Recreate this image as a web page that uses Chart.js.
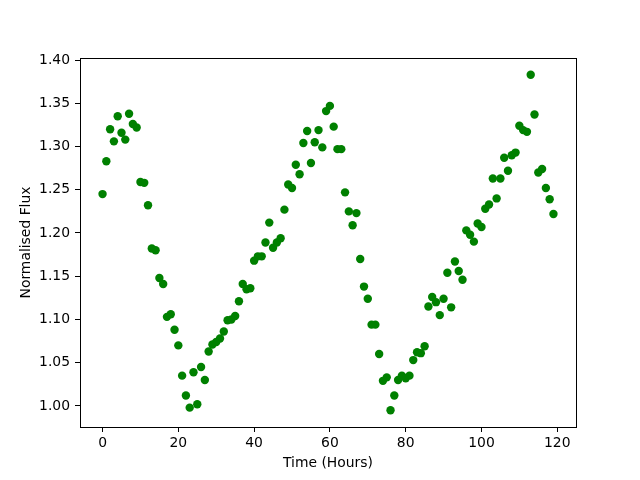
<!DOCTYPE html>
<html>
<head>
<meta charset="utf-8">
<script src="https://cdn.jsdelivr.net/npm/chart.js@4.4.0/dist/chart.umd.min.js"></script>
<style>
  body { margin: 0; background: #fff; }
  canvas { display: block; }
</style>
</head>
<body>
<canvas id="fluxChart" width="640" height="480"></canvas>
<script>
// Données
const hours = [];
for (let i = 0; i < 120; i++) hours.push(i);

const flux = [
    1.245, 1.283, 1.320, 1.306, 1.335, 1.316, 1.308, 1.338, 1.326, 1.322,
    1.259, 1.258, 1.232, 1.182, 1.180, 1.148, 1.141, 1.103, 1.106, 1.088,
    1.070, 1.035, 1.012, 0.998, 1.039, 1.002, 1.045, 1.030, 1.063, 1.071,
    1.074, 1.078, 1.086, 1.099, 1.100, 1.104, 1.121, 1.141, 1.135, 1.136,
    1.168, 1.173, 1.173, 1.189, 1.212, 1.183, 1.189, 1.194, 1.227, 1.256,
    1.252, 1.279, 1.268, 1.304, 1.318, 1.281, 1.305, 1.319, 1.299, 1.341,
    1.347, 1.323, 1.297, 1.297, 1.247, 1.225, 1.209, 1.223, 1.170, 1.138,
    1.124, 1.094, 1.094, 1.060, 1.029, 1.033, 0.995, 1.012, 1.030, 1.035,
    1.032, 1.035, 1.053, 1.062, 1.061, 1.069, 1.115, 1.126, 1.120, 1.105,
    1.124, 1.154, 1.114, 1.167, 1.156, 1.146, 1.203, 1.198, 1.190, 1.211,
    1.207, 1.228, 1.233, 1.263, 1.240, 1.263, 1.287, 1.272, 1.290, 1.293,
    1.324, 1.319, 1.317, 1.383, 1.337, 1.270, 1.274, 1.252, 1.239, 1.222
];

const xTicks = [0, 20, 40, 60, 80, 100, 120];
const yTicks = [1.00, 1.05, 1.10, 1.15, 1.20, 1.25, 1.30, 1.35, 1.40];

// Cadre noir autour de la zone du graphique
const frame = {
    id: 'frame',
    afterDraw(chart) {
        const a = chart.chartArea;
        const c = chart.ctx;
        c.save();
        c.strokeStyle = '#000';
        c.lineWidth = 1;
        c.strokeRect(Math.round(a.left) + 0.5, Math.round(a.top) + 0.5,
            Math.round(a.right - a.left), Math.round(a.bottom - a.top));
        c.restore();
    }
};

const font = { family: 'DejaVu Sans', size: 13.9 };

new Chart(document.getElementById('fluxChart'), {
    type: 'scatter',
    data: {
        datasets: [{
            data: hours.map((h, i) => ({ x: h, y: flux[i] })),
            backgroundColor: '#008000',
            borderColor: '#008000',
            pointRadius: 4.2,
            pointHoverRadius: 4.2,
            borderWidth: 0
        }]
    },
    options: {
        responsive: false,
        animation: false,
        layout: { padding: { left: 0, top: 58, right: 64, bottom: 0 } },
        plugins: {
            legend: { display: false },
            tooltip: { enabled: false }
        },
        scales: {
            x: {
                type: 'linear',
                min: -5.95,
                max: 124.95,
                afterBuildTicks: s => { s.ticks = xTicks.map(v => ({ value: v })); },
                afterFit: s => { s.height = 53; },
                grid: { drawOnChartArea: false, color: '#000', tickLength: 5 },
                border: { display: false },
                ticks: { color: '#000', font: font, padding: 3, maxRotation: 0 },
                title: { display: true, text: 'Time (Hours)', color: '#000', font: font, padding: { top: 0, bottom: 8 } }
            },
            y: {
                type: 'linear',
                min: 0.9756,
                max: 1.4024,
                afterBuildTicks: s => { s.ticks = yTicks.map(v => ({ value: v })); },
                afterFit: s => { s.width = 80; },
                grid: { drawOnChartArea: false, color: '#000', tickLength: 5 },
                border: { display: false },
                ticks: { color: '#000', font: font, padding: 5, callback: v => v.toFixed(2) },
                title: { display: true, text: 'Normalised Flux', color: '#000', font: font, padding: { top: 18, bottom: 0 } }
            }
        }
    },
    plugins: [frame]
});
</script>
</body>
</html>
